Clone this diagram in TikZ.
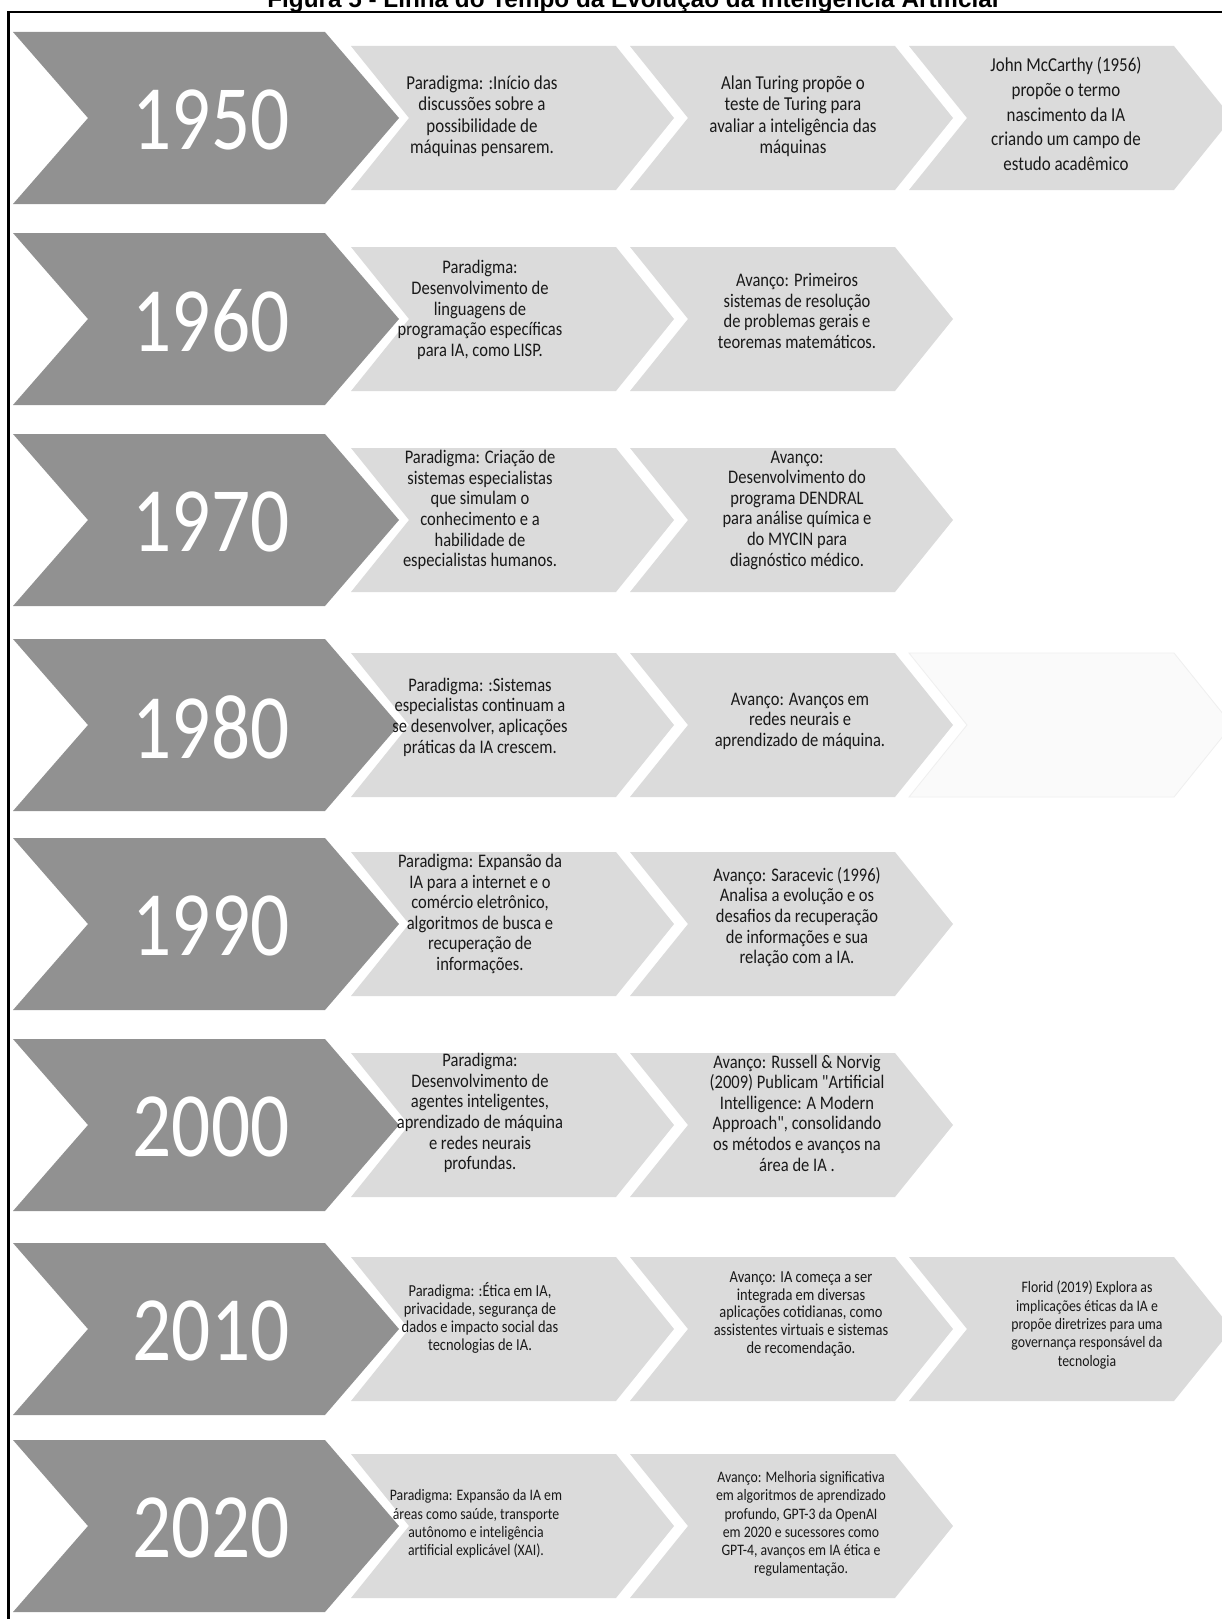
\documentclass[tikz,border=0pt]{standalone}
\usepackage{fontspec}
\newfontfamily\calfont[FakeStretch=0.86]{Carlito}
\newfontfamily\yearfont[FakeStretch=0.84]{Carlito}
\newfontfamily\titlefont{Liberation Sans}
\definecolor{darkg}{HTML}{919191}
\definecolor{lightg}{HTML}{DBDBDB}
\definecolor{ghostfill}{HTML}{FAFAFA}
\definecolor{ghostline}{HTML}{EFEFEF}
\newcommand\lightchev[3][lightg]{\fill[#1] (#2,#3-72) -- ++(265,0) -- ++(58,72) -- ++(-58,72) -- ++(-265,0) -- ++(58,-72) -- cycle;}
\tikzset{
  yeartext/.style={text=white, inner sep=0pt, font=\yearfont\fontsize{92}{92}\selectfont},
  bodytext/.style={align=center, inner sep=0pt, text=black!90},
  fA/.style={font=\calfont\fontsize{19.7}{21.5}\selectfont},
  fA3/.style={font=\calfont\fontsize{19.7}{24.8}\selectfont},
  fB/.style={font=\calfont\fontsize{19.2}{20.6}\selectfont},
  fC/.style={font=\calfont\fontsize{16}{18.3}\selectfont},
  fD/.style={font=\calfont\fontsize{16.8}{17.9}\selectfont},
}
\begin{document}
\begin{tikzpicture}[x=1pt,y=-1pt]
\useasboundingbox (0,0) rectangle (1222,1619);
\fill[white] (0,0) rectangle (1222,1619);
\node[font=\titlefont\bfseries\fontsize{24.3}{24.3}\selectfont, anchor=base, inner sep=0pt] (title) at (633,8) {Figura 5 - Linha do Tempo da Evolução da Inteligência Artificial};
\draw[line width=2.5pt] (8.5,1640) -- (8.5,12) -- (1240,12);

% dark chevrons with years
\foreach \c/\yr in {118/1950, 319/1960, 520/1970, 725/1980, 924/1990, 1125/2000, 1329/2010, 1526/2020} {
  \fill[darkg] (13,\c-86) -- (325,\c-86) -- (399,\c) -- (325,\c+86) -- (13,\c+86) -- (88,\c) -- cycle;
  \node[yeartext] (y\yr) at (211,\c+2) {\yr};
}

% light chevrons
\foreach \c in {118, 319, 520, 725, 924, 1125, 1329, 1526} {
  \lightchev{351}{\c}
  \lightchev{630}{\c}
}
\lightchev{909}{118}
\lightchev{909}{1329}
\fill[ghostfill, draw=ghostline, line width=0.8pt] (909,725-72) -- ++(265,0) -- ++(58,72) -- ++(-58,72) -- ++(-265,0) -- ++(58,-72) -- cycle;

% 1950
\node[bodytext,fA] (p1950) at (482,116) {Paradigma: :Início das\\discussões sobre a\\possibilidade de\\máquinas pensarem.};
\node[bodytext,fA] (a1950) at (793,116) {Alan Turing propõe o\\teste de Turing para\\avaliar a inteligência das\\máquinas};
\node[bodytext,fA3] (m1950) at (1066,114) {John McCarthy (1956)\\propõe o termo\\nascimento da IA\\criando um campo de\\estudo acadêmico};

% 1960
\node[bodytext,fB] (p1960) at (480,310) {Paradigma:\\Desenvolvimento de\\linguagens de\\programação específicas\\para IA, como LISP.};
\node[bodytext,fB] (a1960) at (797,311) {Avanço: Primeiros\\sistemas de resolução\\de problemas gerais e\\teoremas matemáticos.};

% 1970
\node[bodytext,fB] (p1970) at (480,510) {Paradigma: Criação de\\sistemas especialistas\\que simulam o\\conhecimento e a\\habilidade de\\especialistas humanos.};
\node[bodytext,fB] (a1970) at (797,510) {Avanço:\\Desenvolvimento do\\programa DENDRAL\\para análise química e\\do MYCIN para\\diagnóstico médico.};

% 1980
\node[bodytext,fB] (p1980) at (480,717) {Paradigma: :Sistemas\\especialistas continuam a\\se desenvolver, aplicações\\práticas da IA crescem.};
\node[bodytext,fB] (a1980) at (800,721) {Avanço: Avanços em\\redes neurais e\\aprendizado de máquina.};

% 1990
\node[bodytext,fB] (p1990) at (480,914) {Paradigma: Expansão da\\IA para a internet e o\\comércio eletrônico,\\algoritmos de busca e\\recuperação de\\informações.};
\node[bodytext,fB] (a1990) at (797,917) {Avanço: Saracevic (1996)\\Analisa a evolução e os\\desafios da recuperação\\de informações e sua\\relação com a IA.};

% 2000
\node[bodytext,fB] (p2000) at (480,1113) {Paradigma:\\Desenvolvimento de\\agentes inteligentes,\\aprendizado de máquina\\e redes neurais\\profundas.};
\node[bodytext,fB] (a2000) at (797,1113) {Avanço: Russell \& Norvig\\(2009) Publicam "Artificial\\Intelligence: A Modern\\Approach", consolidando\\os métodos e avanços na\\área de IA .};

% 2010
\node[bodytext,fD] (p2010) at (480,1318) {Paradigma: :Ética em IA,\\privacidade, segurança de\\dados e impacto social das\\tecnologias de IA.};
\node[bodytext,fD] (a2010) at (801,1314) {Avanço: IA começa a ser\\integrada em diversas\\aplicações cotidianas, como\\assistentes virtuais e sistemas\\de recomendação.};
\node[bodytext,fC] (f2010) at (1087,1325) {Florid (2019) Explora as\\implicações éticas da IA e\\propõe diretrizes para uma\\governança responsável da\\tecnologia};

% 2020
\node[bodytext,fC] (p2020) at (476,1524) {Paradigma: Expansão da IA em\\áreas como saúde, transporte\\autônomo e inteligência\\artificial explicável (XAI).};
\node[bodytext,fC] (a2020) at (801,1524) {Avanço: Melhoria significativa\\em algoritmos de aprendizado\\profundo, GPT-3 da OpenAI\\em 2020 e sucessores como\\GPT-4, avanços em IA ética e\\regulamentação.};
\end{tikzpicture}
\end{document}
